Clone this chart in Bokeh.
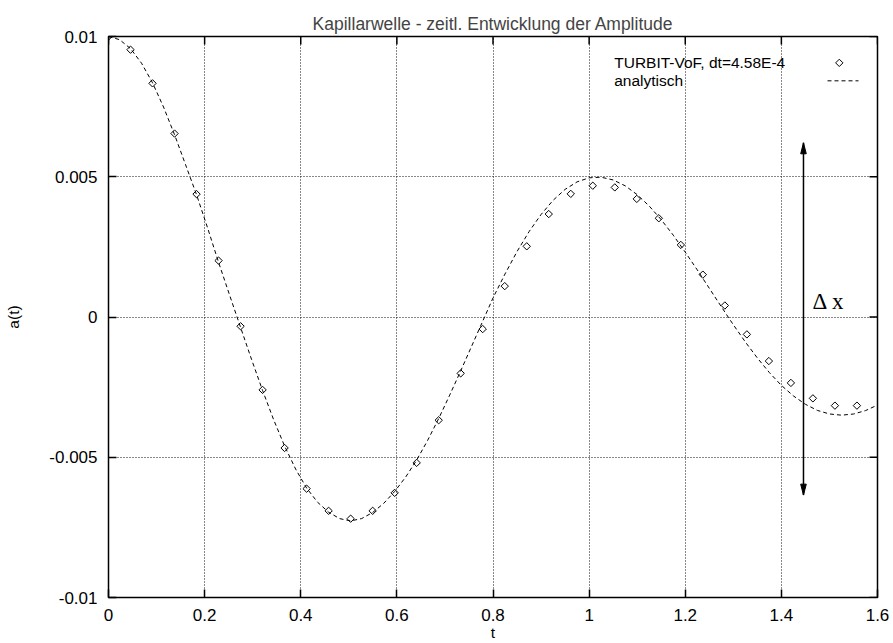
from bokeh.plotting import figure
from bokeh.models import Range1d, FixedTicker, Label, ColumnDataSource
from bokeh.embed import file_html
from bokeh.resources import INLINE

# ---------------- data ----------------
title_text = "Kapillarwelle - zeitl. Entwicklung der Amplitude"
x_label = "t"
y_label = "a(t)"

x_ticks = [0.0, 0.2, 0.4, 0.6, 0.8, 1.0, 1.2, 1.4, 1.6]
x_tick_labels = ["0", "0.2", "0.4", "0.6", "0.8", "1", "1.2", "1.4", "1.6"]
y_ticks = [-0.01, -0.005, 0.0, 0.005, 0.01]
y_tick_labels = ["-0.01", "-0.005", "0", "0.005", "0.01"]

sim_label = "TURBIT-VoF, dt=4.58E-4"
ana_label = "analytisch"

# simulation (diamonds)
t_sim = [0.0, 0.0458, 0.0916, 0.1374, 0.1832, 0.2290, 0.2748, 0.3206, 0.3664, 0.4122,
         0.4580, 0.5038, 0.5496, 0.5954, 0.6412, 0.6870, 0.7328, 0.7786, 0.8244, 0.8702,
         0.9160, 0.9618, 1.0076, 1.0534, 1.0992, 1.1450, 1.1908, 1.2366, 1.2824, 1.3282,
         1.3740, 1.4198, 1.4656, 1.5114, 1.5572]
a_sim = [0.01, 0.00953, 0.00833, 0.00654, 0.00438, 0.00201, -0.00033, -0.0026, -0.00467, -0.00612,
         -0.00691, -0.00719, -0.00691, -0.00627, -0.0052, -0.00368, -0.00201, -0.00043, 0.0011, 0.00252,
         0.00367, 0.00439, 0.00468, 0.00462, 0.00421, 0.00352, 0.00257, 0.00151, 0.00041, -0.00062,
         -0.00157, -0.00235, -0.0029, -0.00316, -0.00316]

# analytic solution (dashed line)
t_ana = [0.0, 0.0229, 0.0458, 0.0687, 0.0916, 0.1145, 0.1374, 0.1603, 0.1832, 0.2061,
         0.2290, 0.2519, 0.2748, 0.2977, 0.3206, 0.3435, 0.3664, 0.3893, 0.4122, 0.4351,
         0.4580, 0.4809, 0.5038, 0.5267, 0.5496, 0.5725, 0.5954, 0.6183, 0.6412, 0.6641,
         0.6870, 0.7099, 0.7328, 0.7557, 0.7786,
         0.800, 0.825, 0.850, 0.875, 0.900, 0.925, 0.950, 0.975, 1.000, 1.025,
         1.050, 1.075, 1.100, 1.125, 1.150, 1.175, 1.200, 1.225, 1.250, 1.275,
         1.300, 1.325, 1.350, 1.375, 1.400, 1.425, 1.450, 1.475, 1.500, 1.525,
         1.550, 1.575, 1.600]
a_ana = [0.01, 0.009888, 0.00957, 0.009049, 0.00835, 0.007486, 0.0065, 0.005431, 0.00436, 0.00318,
         0.00195, 0.000784, -0.00037, -0.001516, -0.00262, -0.003657, -0.0046, -0.00542, -0.0061, -0.006605,
         -0.00696, -0.007188, -0.00727, -0.007186, -0.00697, -0.006646, -0.00622, -0.005706, -0.0051, -0.004396,
         -0.00362, -0.002785, -0.00192, -0.001035, -0.00015,
         0.000678, 0.001535, 0.002333, 0.003042, 0.003654, 0.00416, 0.00455, 0.004818, 0.004962, 0.004984,
         0.004886, 0.004677, 0.004362, 0.003956, 0.00347, 0.002918, 0.002312, 0.001679, 0.001024, 0.000368,
         -0.000275, -0.000889, -0.001461, -0.001981, -0.002438, -0.002813, -0.003112, -0.00333, -0.003457, -0.0035,
         -0.003459, -0.003337, -0.003139]

# annotation: Delta x double arrow
arrow_t = 1.446
arrow_top = 0.00621
arrow_bottom = -0.00635
arrow_text = "Δ x"

# ---------------- figure ----------------
FONT = "Liberation Sans"
FS_TICK = "17px"
FS_TITLE = "17.5px"
FS_KEY = "15.5px"

X0, X1 = 0.0, 1.6
Y0, Y1 = -0.01, 0.01
PX_X = (893 - 108 - 16) / (X1 - X0)
PX_Y = (643 - 36 - 45) / (Y1 - Y0)

p = figure(width=893, height=643, output_backend="svg", toolbar_location=None,
           x_range=Range1d(X0, X1), y_range=Range1d(Y0, Y1),
           min_border_left=108, min_border_right=16, min_border_top=36, min_border_bottom=45,
           background_fill_color="white", border_fill_color="white")

p.title.text = title_text
p.title.text_font = FONT
p.title.text_font_size = FS_TITLE
p.title.text_font_style = "normal"
p.title.align = "center"
p.title.standoff = 6

p.outline_line_color = "black"
p.outline_line_width = 1.5
p.outline_line_alpha = 1.0

xt = FixedTicker(ticks=x_ticks)
yt = FixedTicker(ticks=y_ticks)

xa = p.xaxis[0]
xa.ticker = xt
xa.major_label_overrides = dict(zip(x_ticks, x_tick_labels))
ya = p.yaxis[0]
ya.ticker = yt
ya.major_label_overrides = dict(zip(y_ticks, y_tick_labels))

for ax in (xa, ya):
    ax.major_tick_in = 8
    ax.major_tick_out = 0
    ax.major_tick_line_width = 1.5
    ax.major_tick_line_color = "black"
    ax.minor_tick_line_color = None
    ax.axis_line_color = None
    ax.major_label_text_font = FONT
    ax.major_label_text_font_size = FS_TICK
    ax.major_label_text_color = "black"
    ax.axis_label_text_font = FONT
    ax.axis_label_text_font_size = FS_KEY
    ax.axis_label_text_font_style = "normal"
    ax.axis_label_text_color = "black"

xa.axis_label = x_label
xa.major_label_standoff = 11
xa.axis_label_standoff = 0
ya.axis_label = y_label
ya.major_label_standoff = 11
ya.axis_label_standoff = 24

p.grid.grid_line_color = "#111111"
p.grid.grid_line_alpha = 1.0
p.grid.grid_line_dash = "1 2"
p.grid.grid_line_width = 1
p.xgrid.ticker = xt
p.ygrid.ticker = yt

# mirrored inward ticks on top and right border
tick_len_y = 8 / PX_Y
tick_len_x = 8 / PX_X
p.segment(x0=x_ticks, y0=[Y1] * len(x_ticks), x1=x_ticks, y1=[Y1 - tick_len_y] * len(x_ticks),
          line_color="black", line_width=1.5)
p.segment(x0=[X1] * len(y_ticks), y0=y_ticks, x1=[X1 - tick_len_x] * len(y_ticks), y1=y_ticks,
          line_color="black", line_width=1.5)

ana_src = ColumnDataSource(dict(t=t_ana, a=a_ana))
sim_src = ColumnDataSource(dict(t=t_sim, a=a_sim))

p.line("t", "a", source=ana_src, line_color="black", line_width=1, line_dash="4 3")
p.scatter("t", "a", source=sim_src, marker="square", angle=0.785398, size=5.2,
          line_color="black", line_width=1, fill_color=None)

# Delta x arrow
p.segment(x0=[arrow_t], y0=[arrow_bottom], x1=[arrow_t], y1=[arrow_top],
          line_color="black", line_width=1.5)
hl = 11 / PX_Y
hw = 2.8 / PX_X
p.patches(xs=[[arrow_t, arrow_t - hw, arrow_t + hw], [arrow_t, arrow_t - hw, arrow_t + hw]],
          ys=[[arrow_top, arrow_top - hl, arrow_top - hl], [arrow_bottom, arrow_bottom + hl, arrow_bottom + hl]],
          fill_color="black", line_color="black", line_width=1)
p.add_layout(Label(x=1.465, y=0.00056, text=arrow_text, text_font="Liberation Serif",
                   text_font_size="23px", text_baseline="alphabetic", text_color="black"))

# key (gnuplot style: text on the left, sample on the right)
key_text_t = 1.0522
key_y1 = 0.00906
key_y2 = 0.00842
p.add_layout(Label(x=key_text_t, y=key_y1, text=sim_label, text_font=FONT, text_font_size=FS_KEY,
                   text_baseline="middle", text_align="left", text_color="black"))
p.add_layout(Label(x=key_text_t, y=key_y2, text=ana_label, text_font=FONT, text_font_size=FS_KEY,
                   text_baseline="middle", text_align="left", text_color="black"))
p.scatter(x=[1.5205], y=[key_y1], marker="square", angle=0.785398, size=5.2,
          line_color="black", line_width=1, fill_color=None)
p.line(x=[1.496, 1.5605], y=[key_y2, key_y2], line_color="black", line_width=1, line_dash="4 3")

open("out.html", "w").write(file_html(p, INLINE))
